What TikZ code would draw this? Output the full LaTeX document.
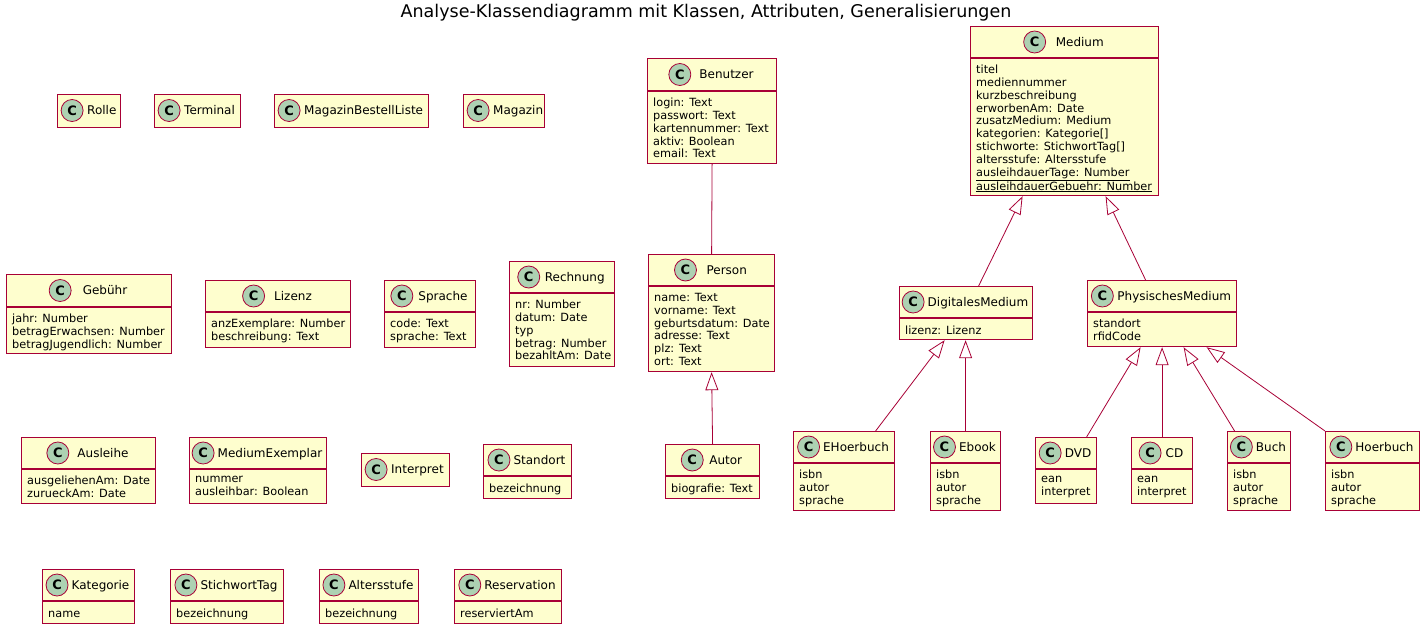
\documentclass[tikz,border=0pt]{standalone}
\usepackage{fontspec}
\setmainfont{DejaVu Sans}
\usetikzlibrary{arrows.meta,calc,positioning}
\definecolor{umlred}{HTML}{A80036}
\definecolor{umlfill}{HTML}{FEFECE}
\definecolor{umlbadge}{HTML}{ADD1B2}

\begin{document}
\begin{tikzpicture}[x=1pt, y=-1pt,
    cls/.style={draw=umlred, fill=umlfill, line width=1.2pt, inner sep=0pt},
    cname/.style={font=\fontsize{12}{14}\selectfont, inner sep=0pt, text height=8.8pt, text depth=0pt},
    badge/.style={circle, draw=umlred, fill=umlbadge, line width=0.8pt, minimum size=22pt, inner sep=0pt, font=\fontsize{13}{13}\selectfont\bfseries},
    attr/.style={font=\fontsize{11.3}{12.8}\selectfont, align=left, inner sep=0pt, execute at begin node=\strut},
    assoc/.style={draw=umlred, line width=0.8pt},
    gen/.style={assoc, -{Triangle[open, length=18pt, width=13pt]}}]
      \path[fill=white] (0,0) rectangle (1428,632);

      \node[font=\fontsize{17.5}{20}\selectfont, anchor=base] (title) at (706,17) {Analyse-Klassendiagramm mit Klassen, Attributen, Generalisierungen};

      % classes without members
      \foreach \id/\x/\y/\w/\nm in {rolle/57/94/63/Rolle, terminal/154/94/86/Terminal,
          magbestell/274/94/154/MagazinBestellListe, magazin/463/94/81/Magazin, interpret/361/453/88/Interpret}
      {
        \node[cls, minimum width=\w pt, minimum height=33pt, anchor=north west] (\id) at (\x,\y) {};
        \node[cname, anchor=west, label={[badge, label distance=3.5pt]left:C}] at (\x+30, \y+16.5) {\nm};
      }

      % classes with attributes
      \foreach \id/\x/\y/\w/\h/\hh/\g/\nm/\attr in {
          gebuehr/6/274/165/79/33/11/Gebühr/{jahr: Number\\betragErwachsen: Number\\betragJugendlich: Number},
          lizenz/205/280/145/67/32/9/Lizenz/{anzExemplare: Number\\beschreibung: Text},
          sprache/384/280/91/67/32/5/Sprache/{code: Text\\sprache: Text},
          rechnung/509/261/105/105/32/4.5/Rechnung/{nr: Number\\datum: Date\\typ\\betrag: Number\\bezahltAm: Date},
          benutzer/647/58/129/105/33/8/Benutzer/{login: Text\\passwort: Text\\kartennummer: Text\\aktiv: Boolean\\email: Text},
          person/648/254/126/117/32/9.5/Person/{name: Text\\vorname: Text\\geburtsdatum: Date\\adresse: Text\\plz: Text\\ort: Text},
          medium/970/26/188/169/32/9.5/Medium/{titel\\mediennummer\\kurzbeschreibung\\erworbenAm: Date\\zusatzMedium: Medium\\kategorien: Kategorie[]\\stichworte: StichwortTag[]\\altersstufe: Altersstufe\\\underline{ausleihdauerTage: Number}\\\underline{ausleihdauerGebuehr: Number}},
          digital/899/286/133/53/32/3/DigitalesMedium/{lizenz: Lizenz},
          physisch/1087/280/149/66/32/3.5/PhysischesMedium/{standort\\rfidCode},
          autor/665/444/94/54/32/5.5/Autor/{biografie: Text},
          ehoer/793/431/101/79/32/3/EHoerbuch/{isbn\\autor\\sprache},
          ebook/930/431/70/79/32/3/Ebook/{isbn\\autor\\sprache},
          dvd/1035/437/61/66/32/3/DVD/{ean\\interpret},
          cd/1131/437/61/66/32/4/CD/{ean\\interpret},
          buch/1227/431/63/79/32/3/Buch/{isbn\\autor\\sprache},
          hoer/1325/431/94/79/32/3/Hoerbuch/{isbn\\autor\\sprache},
          ausleihe/21/437/134/66/32/8/Ausleihe/{ausgeliehenAm: Date\\zurueckAm: Date},
          exemplar/189/437/137/66/32/3/MediumExemplar/{nummer\\ausleihbar: Boolean},
          standort/483/444/88/54/32/3/Standort/{bezeichnung},
          kategorie/42/569/92/54/32/3/Kategorie/{name},
          stichwort/170/569/113/54/32/3/StichwortTag/{bezeichnung},
          alter/319/569/99/54/32/3/Altersstufe/{bezeichnung},
          reserv/454/569/107/54/32/3/Reservation/{reserviertAm}}
      {
        \node[cls, minimum width=\w pt, minimum height=\h pt, anchor=north west] (\id) at (\x,\y) {};
        \draw[assoc, line width=1.2pt] ([yshift=-\hh pt]\id.north west) -- ([yshift=-\hh pt]\id.north east);
        \node[cname, label={[badge, label distance=\g pt]left:C}] at (\x+\w/2+11+\g/2, \y+\hh/2) {\nm};
        \node[attr, anchor=north west] at (\x+6, \y+\hh+7) {\attr};
      }

      \draw[assoc] (benutzer.south) -- (person.north);
      \draw[gen] (autor.north) -- (person.south);
      \draw[gen] ([xshift=12.5pt]digital.north) -- ([xshift=-42pt]medium.south);
      \draw[gen] ([xshift=-16.5pt]physisch.north) -- ([xshift=41pt]medium.south);
      \draw[gen] ([xshift=31.5pt]ehoer.north) -- ([xshift=-21.5pt]digital.south);
      \draw[gen] (ebook.north) -- (ebook.north |- digital.south);
      \draw[gen] ([xshift=20.5pt]dvd.north) -- ([xshift=-21.5pt]physisch.south);
      \draw[gen] (cd.north) -- (cd.north |- physisch.south);
      \draw[gen] ([xshift=-24.5pt]buch.north) -- ([xshift=21.5pt]physisch.south);
      \draw[gen] (hoer.north west) -- ([xshift=44.5pt]physisch.south);
    \end{tikzpicture}
\end{document}
